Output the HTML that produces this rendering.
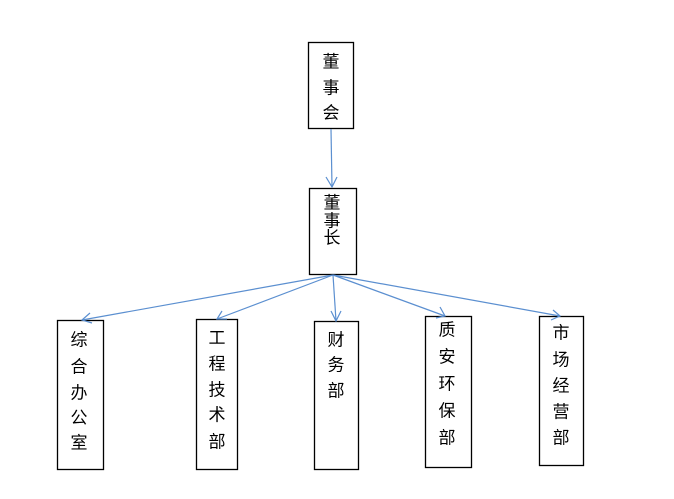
<!DOCTYPE html>
<html><head><meta charset="utf-8"><style>
body{margin:0;background:#fff;width:674px;height:494px;overflow:hidden}
svg text{font-family:"Liberation Sans","Noto Sans CJK SC",sans-serif;font-size:17px;fill:#000;text-anchor:middle;dominant-baseline:central}
</style></head><body>
<svg width="674" height="494" xmlns="http://www.w3.org/2000/svg">
<g fill="none" stroke="#000" stroke-width="1.3">
<rect x="308.5" y="42.5" width="45" height="86"/>
<rect x="309.5" y="188.5" width="47" height="86"/>
<rect x="57.5" y="320.5" width="46" height="149"/>
<rect x="196.5" y="319.5" width="41" height="150"/>
<rect x="314.5" y="321.5" width="44" height="148"/>
<rect x="425.5" y="316.5" width="46" height="151"/>
<rect x="539.5" y="316.5" width="44" height="149"/>
</g>
<g stroke="#5b8fd0" stroke-width="1.2" fill="none">
<line x1="331" y1="129" x2="332" y2="187"/><polyline points="326,177 332,187 337,177"/>
<line x1="333" y1="275" x2="82" y2="320"/><polyline points="90,313 82,320 92,323"/>
<line x1="333" y1="275" x2="217" y2="319"/><polyline points="222,311 217,319 227,319"/>
<line x1="333" y1="275" x2="336" y2="321"/><polyline points="331,311 336,321 341,311"/>
<line x1="333" y1="275" x2="445" y2="316"/><polyline points="440,307 445,316 436,318"/>
<line x1="333" y1="275" x2="560" y2="316"/><polyline points="553,310 560,316 551,320"/>
</g>
<text x="331" y="62">董</text><text x="331" y="88">事</text><text x="331" y="113">会</text>
<text x="332" y="203">董</text><text x="332" y="221">事</text><text x="332" y="238">长</text>
<text x="79" y="340">综</text><text x="79" y="367">合</text><text x="79" y="393">办</text><text x="79" y="418">公</text><text x="79" y="443">室</text>
<text x="217" y="338">工</text><text x="217" y="364">程</text><text x="217" y="390">技</text><text x="217" y="415">术</text><text x="217" y="442">部</text>
<text x="336" y="340">财</text><text x="336" y="365">务</text><text x="336" y="391">部</text>
<text x="447" y="330">质</text><text x="447" y="357">安</text><text x="447" y="384">环</text><text x="447" y="411">保</text><text x="447" y="438">部</text>
<text x="561" y="333">市</text><text x="561" y="360">场</text><text x="561" y="386">经</text><text x="561" y="412">营</text><text x="561" y="438">部</text>
</svg>
</body></html>
